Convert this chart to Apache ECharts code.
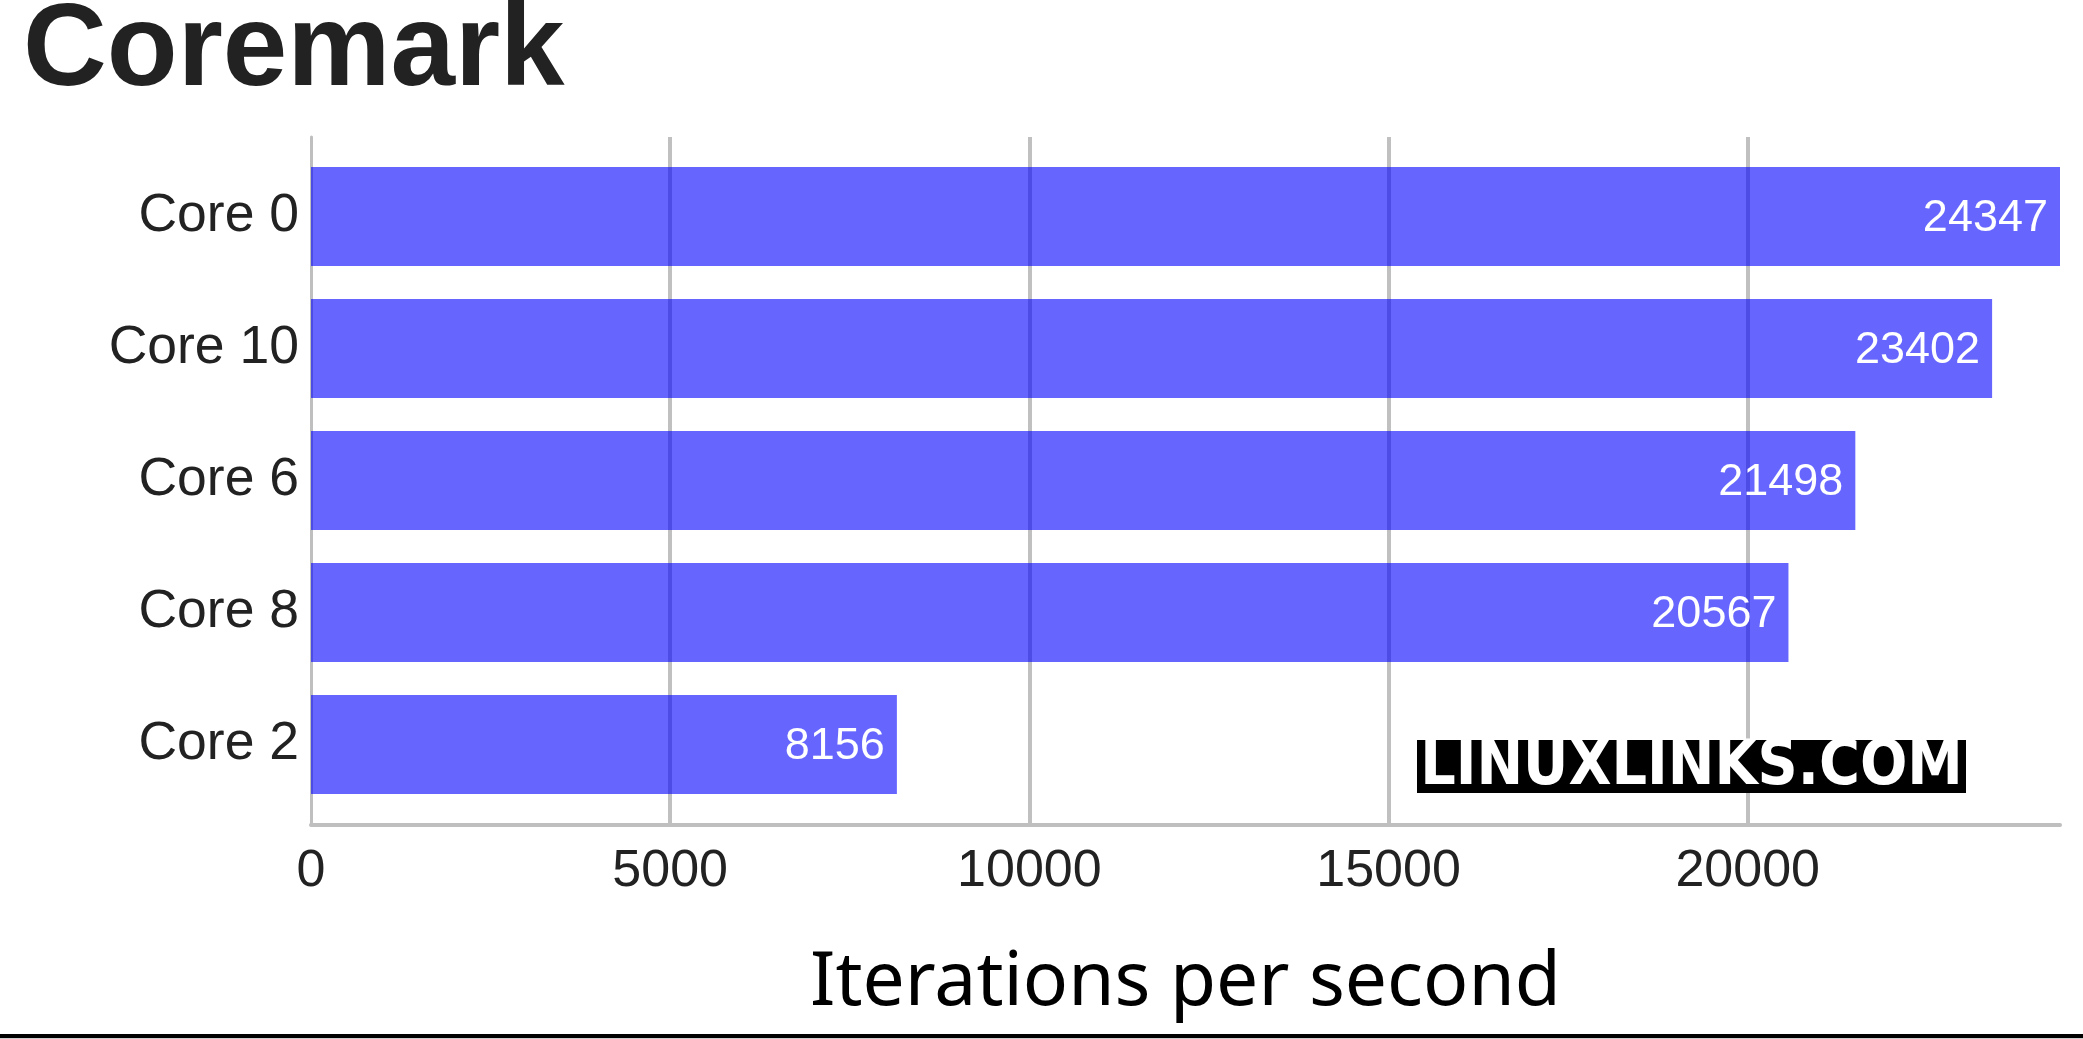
<!DOCTYPE html>
<html>
<head>
<meta charset="utf-8">
<script src="https://cdn.jsdelivr.net/npm/echarts@6/dist/echarts.min.js"></script>
<style>
html,body{margin:0;padding:0;background:#fff;}
#chart{width:2083px;height:1039px;}
</style>
</head>
<body>
<div id="chart"></div>
<script>
const titleText = 'Coremark';
const categories = ['Core 0', 'Core 10', 'Core 6', 'Core 8', 'Core 2'];
const values = [24347, 23402, 21498, 20567, 8156];
const axisName = 'Iterations per second';
const watermark = 'LINUXLINKS.COM';
const tickInterval = 5000;

const axisMax = Math.max.apply(null, values);
const chart = echarts.init(document.getElementById('chart'), null, {renderer: 'canvas'});

chart.setOption({
  animation: false,
  backgroundColor: '#ffffff',
  textStyle: {fontFamily: 'Liberation Sans'},
  title: {
    text: titleText,
    left: 18,
    top: -10,
    textStyle: {fontSize: 116, fontWeight: 'bold', color: '#222222', fontFamily: 'Liberation Sans'}
  },
  grid: [
    {left: 311, right: 23, top: 137, bottom: 214},
    {left: 311, right: 23, top: 150.5, height: 660}
  ],
  xAxis: [
    {
      gridIndex: 0, type: 'value', min: 0, max: axisMax, interval: tickInterval,
      axisLine: {show: true, onZero: false, lineStyle: {color: '#bfbfbf', width: 4}},
      axisTick: {show: false},
      splitLine: {show: true, showMinLine: false, showMaxLine: false, lineStyle: {color: '#c0c0c0', width: 4}},
      axisLabel: {fontSize: 52, color: '#222222', margin: 21, showMaxLabel: false, fontFamily: 'Liberation Sans',
        formatter: function (v) { return String(v); }},
      name: axisName, nameLocation: 'middle', nameGap: 121,
      nameTextStyle: {fontSize: 75, fontFamily: 'Noto Sans', color: '#000000'}
    },
    {gridIndex: 1, type: 'value', min: 0, max: axisMax, show: false}
  ],
  yAxis: [
    {
      gridIndex: 0, type: 'value', min: 0, max: 1,
      axisLine: {show: true, onZero: false, lineStyle: {color: '#bfbfbf', width: 3}},
      axisLabel: {show: false}, axisTick: {show: false}, splitLine: {show: false}
    },
    {
      gridIndex: 1, type: 'category', data: categories, inverse: true,
      axisLine: {show: false}, axisTick: {show: false}, splitLine: {show: false},
      axisLabel: {fontSize: 53.5, color: '#222222', margin: 12, fontFamily: 'Liberation Sans', padding: [12, 0, 0, 0]}
    }
  ],
  series: [{
    type: 'bar', xAxisIndex: 1, yAxisIndex: 1,
    data: values,
    barWidth: 99,
    itemStyle: {color: 'rgba(0,0,255,0.6)'},
    label: {show: true, position: 'insideRight', distance: 12, offset: [0, 2], color: '#ffffff', fontSize: 45, fontFamily: 'Liberation Sans', padding: [6, 0, 0, 0]}
  }],
  graphic: [
    {type: 'rect', left: 1417, top: 740, shape: {x: 0, y: 0, width: 549, height: 53}, style: {fill: '#000000'}, z: 10},
    {type: 'text', x: 1691.5, y: 768, z: 11,
      style: {text: watermark, fill: '#ffffff', font: 'bold 62px "DejaVu Sans Condensed", "DejaVu Sans"', align: 'center', verticalAlign: 'middle'}},
    {type: 'rect', left: 0, top: 1034, shape: {x: 0, y: 0, width: 2083, height: 4}, style: {fill: '#000000'}},
    {type: 'rect', left: 0, top: 1038, shape: {x: 0, y: 0, width: 2083, height: 1}, style: {fill: '#cccccc'}}
  ]
});
</script>
</body>
</html>
